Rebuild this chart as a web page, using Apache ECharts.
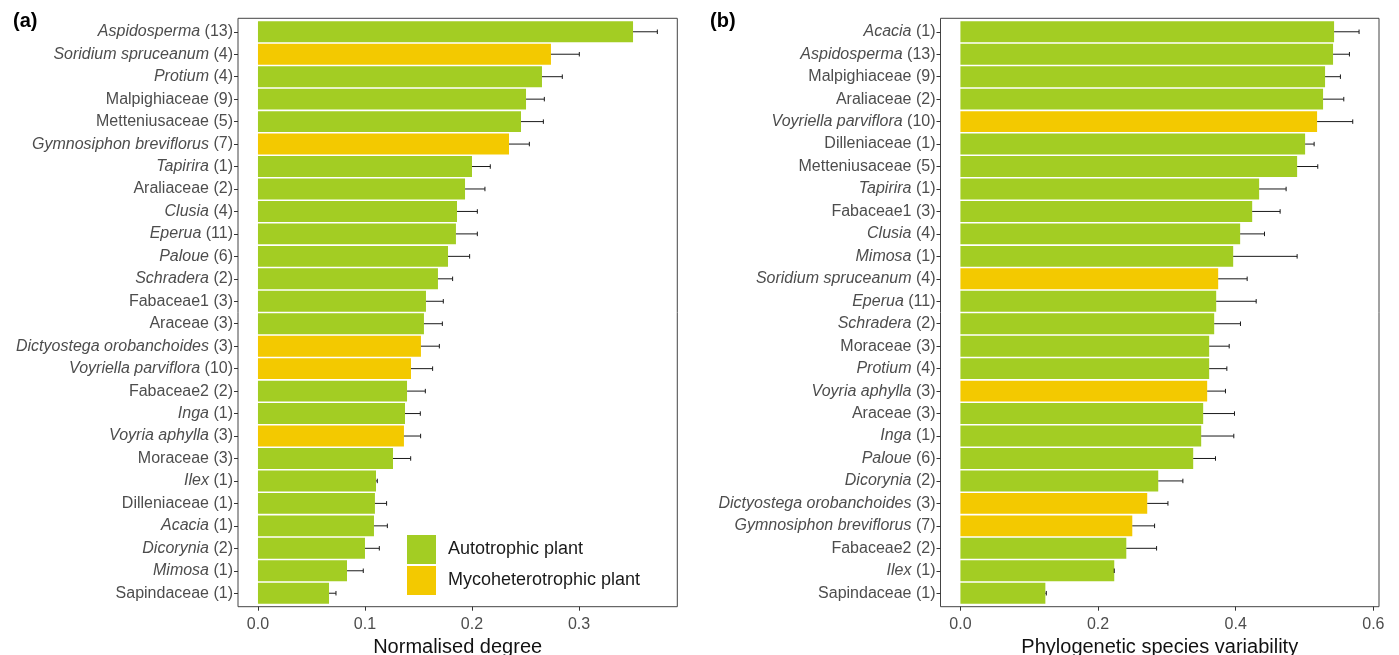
<!DOCTYPE html>
<html>
<head>
<meta charset="utf-8">
<script src="https://cdn.jsdelivr.net/npm/echarts@6/dist/echarts.min.js"></script>
<style>
  html, body { margin: 0; padding: 0; background: #fff; }
  #chart { width: 1399px; height: 655px; }
</style>
</head>
<body>
<div id="chart"></div>
<script>
// panel (a): normalised degree
const namesA = ['Aspidosperma', 'Soridium spruceanum', 'Protium', 'Malpighiaceae', 'Metteniusaceae',
  'Gymnosiphon breviflorus', 'Tapirira', 'Araliaceae', 'Clusia', 'Eperua', 'Paloue', 'Schradera',
  'Fabaceae1', 'Araceae', 'Dictyostega orobanchoides', 'Voyriella parviflora', 'Fabaceae2', 'Inga',
  'Voyria aphylla', 'Moraceae', 'Ilex', 'Dilleniaceae', 'Acacia', 'Dicorynia', 'Mimosa', 'Sapindaceae'];
const countsA = [13, 4, 4, 9, 5, 7, 1, 2, 4, 11, 6, 2, 3, 3, 3, 10, 2, 1, 3, 3, 1, 1, 1, 2, 1, 1];
const typesA = ['A', 'M', 'A', 'A', 'A', 'M', 'A', 'A', 'A', 'A', 'A', 'A', 'A', 'A', 'M', 'M', 'A', 'A',
  'M', 'A', 'A', 'A', 'A', 'A', 'A', 'A'];
const valuesA = [0.3505, 0.2738, 0.2654, 0.2505, 0.2458, 0.2346, 0.2000, 0.1935, 0.1860, 0.1850, 0.1776,
  0.1682, 0.1570, 0.1551, 0.1523, 0.1430, 0.1393, 0.1374, 0.1364, 0.1262, 0.1103, 0.1093, 0.1084,
  0.1000, 0.0832, 0.0664];
const upperA = [0.3732, 0.3003, 0.2844, 0.2676, 0.2667, 0.2536, 0.2171, 0.2121, 0.2050, 0.2050, 0.1978,
  0.1819, 0.1732, 0.1723, 0.1695, 0.1632, 0.1564, 0.1517, 0.1520, 0.1427, 0.1115, 0.1202, 0.1209,
  0.1134, 0.0984, 0.0729];
const ticksA = [0, 0.1, 0.2, 0.3];

// panel (b): phylogenetic species variability
const namesB = ['Acacia', 'Aspidosperma', 'Malpighiaceae', 'Araliaceae', 'Voyriella parviflora',
  'Dilleniaceae', 'Metteniusaceae', 'Tapirira', 'Fabaceae1', 'Clusia', 'Mimosa', 'Soridium spruceanum',
  'Eperua', 'Schradera', 'Moraceae', 'Protium', 'Voyria aphylla', 'Araceae', 'Inga', 'Paloue',
  'Dicorynia', 'Dictyostega orobanchoides', 'Gymnosiphon breviflorus', 'Fabaceae2', 'Ilex', 'Sapindaceae'];
const countsB = [1, 13, 9, 2, 10, 1, 5, 1, 3, 4, 1, 4, 11, 2, 3, 4, 3, 3, 1, 6, 2, 3, 7, 2, 1, 1];
const typesB = ['A', 'A', 'A', 'A', 'M', 'A', 'A', 'A', 'A', 'A', 'A', 'M', 'A', 'A', 'A', 'A', 'M', 'A',
  'A', 'A', 'A', 'M', 'M', 'A', 'A', 'A'];
const valuesB = [0.5429, 0.5414, 0.5298, 0.5269, 0.5182, 0.5008, 0.4892, 0.4340, 0.4239, 0.4064, 0.3963,
  0.3745, 0.3716, 0.3687, 0.3614, 0.3614, 0.3585, 0.3527, 0.3498, 0.3382, 0.2874, 0.2714, 0.2497,
  0.2410, 0.2235, 0.1234];
const upperB = [0.5792, 0.5652, 0.5521, 0.5570, 0.5700, 0.5139, 0.5192, 0.4732, 0.4645, 0.4418, 0.4892,
  0.4166, 0.4297, 0.4069, 0.3905, 0.3871, 0.3851, 0.3982, 0.3972, 0.3706, 0.3232, 0.3015, 0.2821,
  0.2850, 0.2235, 0.1248];
const ticksB = [0, 0.2, 0.4, 0.6];

const AUTO = 'Autotrophic plant';
const MYCO = 'Mycoheterotrophic plant';
const GREEN = '#a3cd23';
const YELLOW = '#f3c900';
const FONT = 'Liberation Sans';

const chart = echarts.init(document.getElementById('chart'));

// ggplot-like 5% expansion of the continuous axis
const expand = (vals) => {
  const hi = Math.max(...vals);
  const e = hi * 0.05;
  return { min: -e, max: hi + e };
};

const labelFmt = (names, counts) => (v, i) => {
  const n = names[i];
  const fam = /aceae\d?$/.test(n);
  return (fam ? '{n|' + n + '}' : '{i|' + n + '}') + '{n| (' + counts[i] + ')}';
};

const rich = {
  i: { fontFamily: FONT, fontSize: 16, fontStyle: 'italic', color: '#4d4d4d' },
  n: { fontFamily: FONT, fontSize: 16, color: '#4d4d4d' }
};

// frame grid + data grid for one panel
const makePanel = (frame, g, names, counts, ticks, range, title) => {
  const band = frame.h / (names.length + 0.2);
  const inset = band * 0.1;
  const grids = [
    { left: frame.left, width: frame.w, top: frame.top, height: frame.h, show: true,
      outerBoundsMode: 'none', containLabel: false,
      borderColor: '#444', borderWidth: 1, backgroundColor: 'transparent' },
    { left: frame.left, width: frame.w, top: frame.top + inset, height: frame.h - 2 * inset,
      outerBoundsMode: 'none', containLabel: false }
  ];
  const xAxes = [
    { type: 'value', gridIndex: g, min: range.min, max: range.max, splitLine: { show: false },
      axisLine: { show: false, onZero: false },
      axisTick: { show: true, length: 4, lineStyle: { color: '#333' }, customValues: ticks },
      axisLabel: { customValues: ticks, margin: 10, fontFamily: FONT, fontSize: 16, color: '#4d4d4d',
        formatter: v => v.toFixed(1) },
      name: title, nameLocation: 'middle', nameGap: 29,
      nameTextStyle: { fontFamily: FONT, fontSize: 20, color: '#111' } },
    { type: 'value', gridIndex: g + 1, min: range.min, max: range.max, show: false }
  ];
  const yAxes = [
    { type: 'value', gridIndex: g, min: 0, max: 1, show: false },
    { type: 'category', gridIndex: g + 1, data: names, inverse: true,
      axisLine: { show: false, onZero: false },
      axisTick: { show: true, length: 4, alignWithLabel: true, lineStyle: { color: '#333' } },
      axisLabel: { margin: 5, interval: 0, formatter: labelFmt(names, counts), rich: rich } }
  ];
  return { grids, xAxes, yAxes };
};

const rangeA = expand(upperA);
const rangeB = expand(upperB);
const pA = makePanel({ left: 238, w: 439.3, top: 18.3, h: 588.4 }, 0, namesA, countsA, ticksA, rangeA, 'Normalised degree');
const pB = makePanel({ left: 940.5, w: 438.5, top: 18.3, h: 588.4 }, 2, namesB, countsB, ticksB, rangeB, 'Phylogenetic species variability');

const barSeries = (name, color, types, values, type, axis) => ({
  name: name, type: 'bar', xAxisIndex: axis, yAxisIndex: axis,
  barWidth: '93%', barGap: '-100%', silent: true,
  itemStyle: { color: color },
  data: values.map((v, i) => types[i] === type ? v : '-')
});

const errSeries = (values, upper, axis) => ({
  type: 'custom', xAxisIndex: axis, yAxisIndex: axis, silent: true, z: 5,
  encode: { x: 0, y: 1 },
  data: values.map((v, i) => [v, i, upper[i]]),
  renderItem: (params, api) => {
    const a = api.coord([api.value(0), api.value(1)]);
    const b = api.coord([api.value(2), api.value(1)]);
    const h = api.size([0, 1])[1] * 0.1;
    const style = { stroke: '#1a1a1a', lineWidth: 1 };
    return {
      type: 'group',
      children: [
        { type: 'line', shape: { x1: a[0], y1: a[1], x2: b[0], y2: b[1] }, style: style },
        { type: 'line', shape: { x1: b[0], y1: b[1] - h, x2: b[0], y2: b[1] + h }, style: style }
      ]
    };
  }
});

const option = {
  animation: false,
  backgroundColor: '#fff',
  title: [
    { text: '(a)', left: 13, top: 11, padding: 0, textStyle: { fontFamily: FONT, fontSize: 20, fontWeight: 'bold', color: '#000' } },
    { text: '(b)', left: 710, top: 11, padding: 0, textStyle: { fontFamily: FONT, fontSize: 20, fontWeight: 'bold', color: '#000' } }
  ],
  legend: {
    data: [AUTO, MYCO], orient: 'vertical', left: 407, top: 535, padding: 0,
    itemWidth: 29, itemHeight: 29, itemGap: 2, icon: 'rect', selectedMode: false,
    textStyle: { fontFamily: FONT, fontSize: 18, color: '#1a1a1a', padding: [0, 0, 0, 7] }
  },
  grid: [...pA.grids, ...pB.grids],
  xAxis: [...pA.xAxes, ...pB.xAxes],
  yAxis: [...pA.yAxes, ...pB.yAxes],
  series: [
    barSeries(AUTO, GREEN, typesA, valuesA, 'A', 1),
    barSeries(MYCO, YELLOW, typesA, valuesA, 'M', 1),
    errSeries(valuesA, upperA, 1),
    barSeries(AUTO, GREEN, typesB, valuesB, 'A', 3),
    barSeries(MYCO, YELLOW, typesB, valuesB, 'M', 3),
    errSeries(valuesB, upperB, 3)
  ]
};

chart.setOption(option);
window.addEventListener('resize', () => chart.resize());
</script>
</body>
</html>
